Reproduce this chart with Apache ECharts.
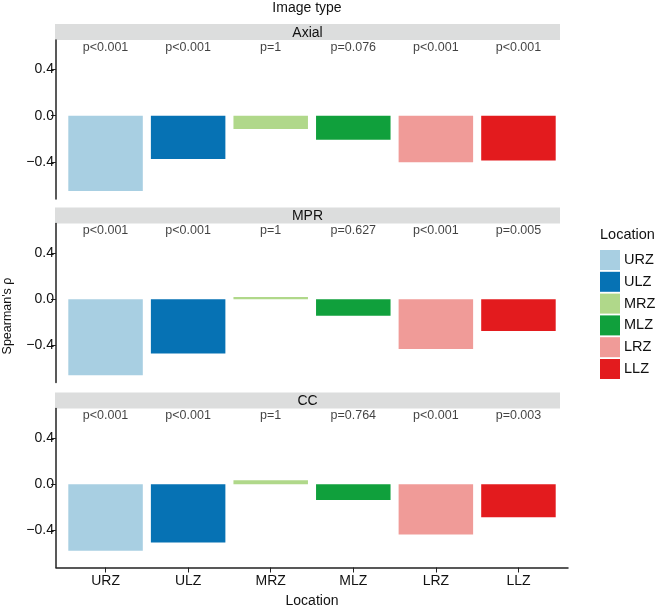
<!DOCTYPE html>
<html><head><meta charset="utf-8">
<script src="https://cdn.jsdelivr.net/npm/echarts@6/dist/echarts.min.js"></script>
<style>html,body{margin:0;padding:0;background:#fff}#c{width:656px;height:608px}</style>
</head><body><div id="c"></div>
<script>
// ---- data ----
const locations = ['URZ', 'ULZ', 'MRZ', 'MLZ', 'LRZ', 'LLZ'];
const panels = ['Axial', 'MPR', 'CC'];
const axialRho = [-0.651, -0.375, -0.115, -0.207, -0.403, -0.386];
const mprRho   = [-0.658, -0.470,  0.020, -0.143, -0.430, -0.275];
const ccRho    = [-0.576, -0.504,  0.035, -0.136, -0.435, -0.285];
const axialP = ['p<0.001', 'p<0.001', 'p=1', 'p=0.076', 'p<0.001', 'p<0.001'];
const mprP   = ['p<0.001', 'p<0.001', 'p=1', 'p=0.627', 'p<0.001', 'p=0.005'];
const ccP    = ['p<0.001', 'p<0.001', 'p=1', 'p=0.764', 'p<0.001', 'p=0.003'];
const yTicks = [-0.4, 0, 0.4];
const pLabelY = 0.59;
const colors = ['#a8cfe2', '#0672b4', '#b0d88a', '#10a03c', '#f09b98', '#e31b1e'];

// ---- layout ----
const FONT = '"Liberation Sans", Arial, Helvetica, sans-serif';
const TXT = '#111';
const rhoSets = [axialRho, mprRho, ccRho];
const pSets = [axialP, mprP, ccP];
const gridTops = [40, 223.5, 408.5];
const gridH = 159;
const gridLeft = 56, gridRight = 568;
const stripTops = [24, 207.5, 392.5];
const stripH = 16;
const stripRight = 560;

const catIdx = locations.map((_, i) => i + 1);
const fmtY = v => (v === 0 ? '0.0' : (v < 0 ? '\u2212' : '') + Math.abs(v).toFixed(1));

const grids = [], xAxes = [], yAxes = [], series = [], graphics = [];
panels.forEach((pn, k) => {
  grids.push({left: gridLeft, width: gridRight - gridLeft, top: gridTops[k], height: gridH,
    containLabel: false, outerBoundsMode: 'none'});
  const bottom = k === panels.length - 1;
  xAxes.push({
    type: 'value', gridIndex: k, min: 0.4, max: 6.6,
    splitLine: {show: false},
    axisLine: {show: bottom, onZero: false, lineStyle: {color: '#222', width: 1.5}},
    axisTick: {show: bottom, customValues: catIdx, length: 5, lineStyle: {color: '#222', width: 1}},
    axisLabel: {show: bottom, customValues: catIdx, margin: 7,
      formatter: v => locations[Math.round(v) - 1] || '',
      color: TXT, fontSize: 14, fontFamily: FONT},
    name: bottom ? 'Location' : '', nameLocation: 'middle', nameGap: 27,
    nameTextStyle: {color: TXT, fontSize: 14, fontFamily: FONT}
  });
  yAxes.push({
    type: 'value', gridIndex: k, min: -0.72, max: 0.655,
    splitLine: {show: false},
    axisLine: {show: true, lineStyle: {color: '#222', width: 1.5}},
    axisTick: {show: true, customValues: yTicks, length: 5, lineStyle: {color: '#222', width: 1}},
    axisLabel: {customValues: yTicks, formatter: fmtY, margin: 2, color: TXT, fontSize: 14, fontFamily: FONT}
  });
  locations.forEach((loc, i) => {
    series.push({
      type: 'bar', name: loc, xAxisIndex: k, yAxisIndex: k, stack: 'panel' + k,
      barWidth: 74.5, itemStyle: {color: colors[i]},
      data: [[i + 1, rhoSets[k][i]]], silent: true, animation: false
    });
  });
  series.push({
    type: 'scatter', xAxisIndex: k, yAxisIndex: k, symbolSize: 0, silent: true, animation: false,
    label: {show: true, position: 'inside', formatter: p => p.name, color: TXT, fontSize: 12.5, fontFamily: FONT},
    data: pSets[k].map((t, i) => ({name: t, value: [i + 1, pLabelY]}))
  });
  graphics.push({type: 'rect', left: 55, top: stripTops[k], shape: {width: stripRight - 55, height: stripH},
    style: {fill: '#dcdddd'}, silent: true});
  graphics.push({type: 'text', x: (55 + stripRight) / 2, y: stripTops[k] + stripH / 2 + 1,
    style: {text: pn, fill: TXT, fontSize: 14, fontFamily: FONT, align: 'center', verticalAlign: 'middle'}, silent: true});
});
graphics.push({type: 'text', x: 307, y: 8, style: {text: 'Image type', fill: TXT, fontSize: 14, fontFamily: FONT, align: 'center', verticalAlign: 'middle'}});
graphics.push({type: 'text', x: 600, y: 235, style: {text: 'Location', fill: TXT, fontSize: 14.5, fontFamily: FONT, align: 'left', verticalAlign: 'middle'}});
graphics.push({type: 'text', x: 8, y: 316, rotation: Math.PI / 2,
  style: {text: "Spearman's \u03c1", fill: TXT, fontSize: 12.5, fontFamily: FONT, align: 'center', verticalAlign: 'middle'}});

const chart = echarts.init(document.getElementById('c'), null, {renderer: 'canvas'});
chart.setOption({
  animation: false,
  backgroundColor: '#fff',
  grid: grids, xAxis: xAxes, yAxis: yAxes, series: series,
  legend: {
    data: locations, orient: 'vertical', left: 600, top: 250, padding: 0,
    itemWidth: 20, itemHeight: 20, itemGap: 1.8, icon: 'rect', selectedMode: false,
    textStyle: {color: TXT, fontSize: 14.5, fontFamily: FONT, padding: [0, 0, 0, -1]}
  },
  graphic: graphics
});
</script></body></html>
